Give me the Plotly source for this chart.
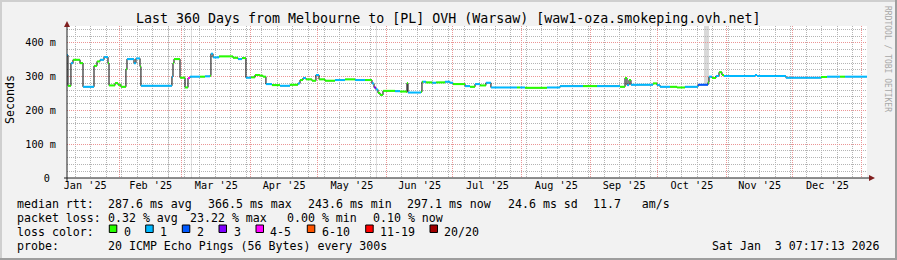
import plotly.graph_objects as go
import pandas as pd

# ---------------- data ----------------
title_text = "Last 360 Days from Melbourne to [PL] OVH (Warsaw) [waw1-oza.smokeping.ovh.net]"
x_start = "2025-01-08 07:17:13"
x_end = "2026-01-03 07:17:13"

step_dates = [
    "2025-01-08 07:17", "2025-01-08 18:00", "2025-01-10 02:00", "2025-01-11 00:00", "2025-01-14 04:00",
    "2025-01-15 12:00", "2025-01-20 11:00", "2025-01-21 19:00", "2025-01-23 04:00", "2025-01-24 23:00",
    "2025-01-26 18:00", "2025-01-27 05:00", "2025-01-29 22:00", "2025-01-31 06:00", "2025-02-01 14:00",
    "2025-02-03 20:00", "2025-02-04 07:00", "2025-02-07 11:00", "2025-02-08 08:00", "2025-02-10 04:00",
    "2025-02-10 14:00", "2025-02-24 13:00", "2025-02-25 00:00", "2025-02-25 11:00", "2025-02-28 04:00",
    "2025-03-02 10:00", "2025-03-03 18:00", "2025-03-04 16:00", "2025-03-09 04:00", "2025-03-11 10:00",
    "2025-03-13 16:00", "2025-03-14 02:00", "2025-03-15 00:00", "2025-03-17 17:00", "2025-03-24 00:00",
    "2025-03-26 06:00", "2025-03-28 01:00", "2025-03-29 20:00", "2025-04-01 02:00", "2025-04-02 22:00",
    "2025-04-05 04:00", "2025-04-06 12:00", "2025-04-07 20:00", "2025-04-10 13:00", "2025-04-14 04:00",
    "2025-04-18 16:00", "2025-04-22 06:00", "2025-04-23 04:00", "2025-04-24 12:00", "2025-04-25 20:00",
    "2025-04-28 13:00", "2025-04-30 08:00", "2025-05-01 17:00", "2025-05-04 10:00", "2025-05-08 22:00",
    "2025-05-13 10:00", "2025-05-17 22:00", "2025-05-22 10:00", "2025-05-25 13:00", "2025-05-26 11:00",
    "2025-05-27 08:00", "2025-05-28 06:00", "2025-05-29 04:00", "2025-05-30 12:00", "2025-06-04 22:00",
    "2025-06-07 04:00", "2025-06-09 20:00", "2025-06-10 07:00", "2025-06-10 18:00", "2025-06-16 14:00",
    "2025-06-17 01:00", "2025-06-17 12:00", "2025-06-18 20:00", "2025-06-21 17:00", "2025-06-23 10:00",
    "2025-06-27 10:00", "2025-06-29 16:00", "2025-07-01 00:00", "2025-07-06 10:00", "2025-07-08 16:00",
    "2025-07-10 22:00", "2025-07-13 04:00", "2025-07-15 20:00", "2025-07-18 02:00", "2025-07-29 19:00",
    "2025-07-31 04:00", "2025-08-02 10:00", "2025-08-12 07:00", "2025-08-18 04:00", "2025-08-28 12:00",
    "2025-09-03 19:00", "2025-09-14 04:00", "2025-09-16 10:00", "2025-09-17 07:00", "2025-09-18 05:00",
    "2025-09-19 02:00", "2025-09-29 00:00", "2025-09-30 19:00", "2025-10-02 04:00", "2025-10-06 16:00",
    "2025-10-09 19:00", "2025-10-13 10:00", "2025-10-19 06:00", "2025-10-23 18:00", "2025-10-24 05:00",
    "2025-10-25 13:00", "2025-10-27 08:00", "2025-10-28 17:00", "2025-10-30 01:00", "2025-10-30 23:00",
    "2025-11-13 22:00", "2025-11-14 19:00", "2025-11-27 20:00", "2025-12-13 14:00", "2025-12-16 07:00",
    "2025-12-22 04:00", "2025-12-24 10:00",
]
median_ms = [
    364, 273, 340, 350, 340,
    270, 332, 345, 350, 358,
    340, 274, 281, 276, 270,
    322, 352, 340, 354, 330,
    273, 300, 340, 352, 297,
    268, 296, 300, 300, 301,
    303, 368, 357, 360, 356,
    352, 355, 297, 298, 305,
    303, 300, 278, 275, 273,
    276, 280, 290, 296, 292,
    288, 305, 292, 288, 290,
    292, 290, 290, 280, 268,
    262, 252, 246, 258, 257,
    256, 255, 281, 253, 255,
    285, 285, 283, 282, 283,
    285, 282, 278, 272, 270,
    278, 274, 282, 268, 268,
    268, 267, 268, 272, 272,
    272, 270, 296, 275, 290,
    276, 280, 275, 270, 270,
    268, 270, 276, 283, 300,
    296, 302, 313, 305, 302,
    305, 302, 297, 299, 300,
    300, 300,
]
loss_class = [
    1, 0, 1, 0, 0,
    1, 0, 0, 1, 1,
    0, 0, 0, 0, 0,
    0, 1, 1, 1, 0,
    1, 1, 0, 0, 0,
    0, 4, 1, 0, 1,
    0, 1, 1, 0, 0,
    1, 0, 1, 0, 0,
    0, 0, 1, 0, 1,
    0, 1, 0, 1, 0,
    0, 1, 0, 0, 1,
    0, 1, 0, 1, 3,
    1, 0, 0, 0, 1,
    0, 0, 0, 1, 0,
    0, 1, 0, 1, 0,
    1, 1, 0, 1, 0,
    1, 0, 1, 1, 0,
    1, 0, 1, 1, 0,
    1, 0, 0, 1, 0,
    1, 0, 1, 1, 0,
    0, 1, 2, 0, 1,
    0, 1, 0, 0, 1,
    1, 1, 1, 0, 1,
    0, 1,
]

# periods with unknown data (grey bars); each bar reaches down to unknown_floor
unknown_start = ["2025-02-22 18:00", "2025-03-05 02:00", "2025-05-27 08:00", "2025-10-21 23:00"]
unknown_end = ["2025-02-23 04:00", "2025-03-05 12:00", "2025-05-27 18:00", "2025-10-24 05:00"]
unknown_floor = [0, 0, 0, 275]

loss_labels = ["0", "1", "2", "3", "4-5", "6-10", "11-19", "20/20"]
loss_colors = ["#26ff00", "#00b8ff", "#0059ff", "#7e00ff", "#ff00ff", "#ff5500", "#ff0000", "#a10000"]

y_tickvals = [0, 100, 200, 300, 400]
y_ticktext = ["0\u00a0", "100 m", "200 m", "300 m", "400 m"]
y_title = "Seconds"

rtt_label = "median rtt:"
rtt_stats = ["287.6 ms avg", "366.5 ms max", "243.6 ms min", "297.1 ms now", "24.6 ms sd", "11.7\u00a0\u00a0\u00a0am/s"]
loss_label = "packet loss:"
loss_stats = ["0.32 % avg", "23.22 % max", "0.00 % min", "0.10 % now"]
color_label = "loss color:"
probe_label = "probe:"
probe_text = "20 ICMP Echo Pings (56 Bytes) every 300s"
stamp_text = "Sat Jan\u00a0\u00a03 07:17:13 2026"
watermark = "RRDTOOL / TOBI OETIKER"

# ---------------- layout geometry (pixels) ----------------
W, H = 897, 260
PL, PR, PT, PB = 67, 867, 26, 178
PW, PH = PR - PL, PB - PT
MONO = "DejaVu Sans Mono"
MAJOR_GRID = "#eb9595"
MINOR_GRID = "#b4b4b4"


def ax(xp):
    return (xp - PL) / PW


def ay(yp):
    return (PB - yp) / PH


fig = go.Figure()

# invisible trace that anchors the overlay axes (labels + major grid)
fig.add_trace(go.Scatter(x=[x_start], y=[0], xaxis="x2", yaxis="y2", mode="markers",
                         marker=dict(opacity=0), hoverinfo="skip", showlegend=False))

dates = pd.to_datetime(step_dates)
ends = list(dates[1:]) + [pd.Timestamp(x_end)]

# black step line (transitions)
fig.add_trace(go.Scatter(
    x=list(dates) + [pd.Timestamp(x_end)], y=median_ms + [median_ms[-1]],
    mode="lines", line=dict(color="#000000", width=1, shape="hv"),
    hoverinfo="skip", showlegend=False))

# coloured median segments by loss class
for ci, col in enumerate(loss_colors):
    xs, ys = [], []
    for d0, d1, v, c in zip(dates, ends, median_ms, loss_class):
        if c == ci:
            xs += [d0, d1, None]
            ys += [v, v, None]
    if xs:
        fig.add_trace(go.Scatter(x=xs, y=ys, mode="lines",
                                 line=dict(color=col, width=2),
                                 hoverinfo="skip", showlegend=False))

shapes = []
# unknown-data bars
for s, e, f in zip(unknown_start, unknown_end, unknown_floor):
    shapes.append(dict(type="rect", xref="x", yref="y", x0=s, x1=e, y0=f, y1=450,
                       fillcolor="#d9d9d9", line=dict(width=0), layer="below"))

# axes lines and arrows
AX_COL = "#1f1f1f"
ARROW = "#801f1f"
shapes.append(dict(type="line", xref="paper", yref="paper", x0=ax(PL), x1=ax(PL), y0=ay(PB + 3), y1=ay(24),
                   line=dict(color=AX_COL, width=1)))
shapes.append(dict(type="line", xref="paper", yref="paper", x0=ax(PL - 3), x1=ax(PR + 4), y0=ay(PB), y1=ay(PB),
                   line=dict(color=AX_COL, width=1)))
shapes.append(dict(type="path", xref="paper", yref="paper",
                   path=f"M {ax(PL-3)} {ay(27)} L {ax(PL+3)} {ay(27)} L {ax(PL)} {ay(21)} Z",
                   fillcolor=ARROW, line=dict(width=0)))
shapes.append(dict(type="path", xref="paper", yref="paper",
                   path=f"M {ax(PR+2)} {ay(PB-3)} L {ax(PR+2)} {ay(PB+3)} L {ax(PR+8)} {ay(PB)} Z",
                   fillcolor=ARROW, line=dict(width=0)))

# frame shading
shapes.append(dict(type="rect", xref="paper", yref="paper", x0=ax(0), x1=ax(W), y0=ay(0), y1=ay(2),
                   fillcolor="#cfcfcf", line=dict(width=0)))
shapes.append(dict(type="rect", xref="paper", yref="paper", x0=ax(0), x1=ax(2), y0=ay(0), y1=ay(H),
                   fillcolor="#cfcfcf", line=dict(width=0)))
shapes.append(dict(type="rect", xref="paper", yref="paper", x0=ax(0), x1=ax(W), y0=ay(H - 2), y1=ay(H),
                   fillcolor="#9e9e9e", line=dict(width=0)))
shapes.append(dict(type="rect", xref="paper", yref="paper", x0=ax(W - 2), x1=ax(W), y0=ay(0), y1=ay(H),
                   fillcolor="#9e9e9e", line=dict(width=0)))

# legend swatches
sw_x = [109.3, 145.7, 182.3, 219, 256, 307.3, 365.7, 430]
sw_lbl_x = [123.3, 160, 196.7, 233.3, 270, 321.7, 380, 444]
SW_TOP, SW_SIZE = 225, 7.5
for xp, col in zip(sw_x, loss_colors):
    shapes.append(dict(type="rect", xref="paper", yref="paper",
                       x0=ax(xp), x1=ax(xp + SW_SIZE), y0=ay(SW_TOP + SW_SIZE), y1=ay(SW_TOP),
                       fillcolor=col, line=dict(color="#000000", width=1)))

annotations = []


def text(xp, yp, s, size=11.6, anchor="left", color="#000000", angle=0):
    annotations.append(dict(xref="paper", yref="paper", x=ax(xp), y=ay(yp), text=s,
                            showarrow=False, xanchor=anchor, yanchor="middle",
                            textangle=angle, borderpad=0,
                            font=dict(family=MONO, size=size, color=color)))


text(447.5, 18.5, title_text, size=13.3, anchor="center")
text(10, 100, y_title, size=11.6, anchor="center", angle=-90)
text(887, 59, watermark, size=8, anchor="center", color="#a8a8a8", angle=90)

ROW = [204.3, 218.3, 232.3, 246.3]
text(16, ROW[0], rtt_label)
for xp, s in zip([107.3, 207.3, 307.3, 406.7, 507.3, 593], rtt_stats):
    text(xp - 0.7, ROW[0], s)
text(16, ROW[1], loss_label)
for xp, s in zip([107.3, 190, 286.7, 372.7], loss_stats):
    text(xp - 0.7, ROW[1], s)
text(16, ROW[2], color_label)
for xp, s in zip(sw_lbl_x, loss_labels):
    text(xp - 0.7, ROW[2], s)
text(16, ROW[3], probe_label)
text(107.3 - 0.7, ROW[3], probe_text)
text(880.5, ROW[3], stamp_text, anchor="right")

fig.update_layout(
    width=W, height=H, autosize=False,
    margin=dict(l=PL, r=W - PR, t=PT, b=H - PB, pad=0),
    paper_bgcolor="#f2f2f2", plot_bgcolor="#ffffff",
    showlegend=False,
    shapes=shapes, annotations=annotations,
    # main axes: weekly / 20 ms minor grid (drawn first, underneath)
    xaxis=dict(
        type="date", range=[x_start, x_end], fixedrange=True,
        dtick=7 * 86400000, tick0="2025-01-12", showticklabels=False, ticks="",
        showline=False, zeroline=False,
        showgrid=True, gridcolor=MINOR_GRID, griddash="1px,1px", gridwidth=1,
    ),
    yaxis=dict(
        range=[0, 450], fixedrange=True,
        dtick=20, tick0=0, showticklabels=False, ticks="",
        showline=False, zeroline=False,
        showgrid=True, gridcolor=MINOR_GRID, griddash="1px,1px", gridwidth=1,
    ),
    # overlay axes: month / 100 ms major grid and the tick labels (drawn on top)
    xaxis2=dict(
        type="date", range=[x_start, x_end], fixedrange=True, overlaying="x", side="bottom",
        dtick="M1", tick0="2025-01-01", tickformat="%b '%y", ticklabelmode="period",
        ticks="", showline=False, zeroline=False,
        showgrid=True, gridcolor=MAJOR_GRID, griddash="1px,1px", gridwidth=1,
        tickfont=dict(family=MONO, size=10.2, color="#000000"),
    ),
    yaxis2=dict(
        range=[0, 450], fixedrange=True, overlaying="y", side="left",
        tickvals=y_tickvals, ticktext=y_ticktext,
        ticks="", showline=False, zeroline=False, ticklabelstandoff=10,
        showgrid=True, gridcolor=MAJOR_GRID, griddash="1px,1px", gridwidth=1,
        tickfont=dict(family=MONO, size=10.2, color="#000000"),
    ),
)

fig.write_html("out.html")
